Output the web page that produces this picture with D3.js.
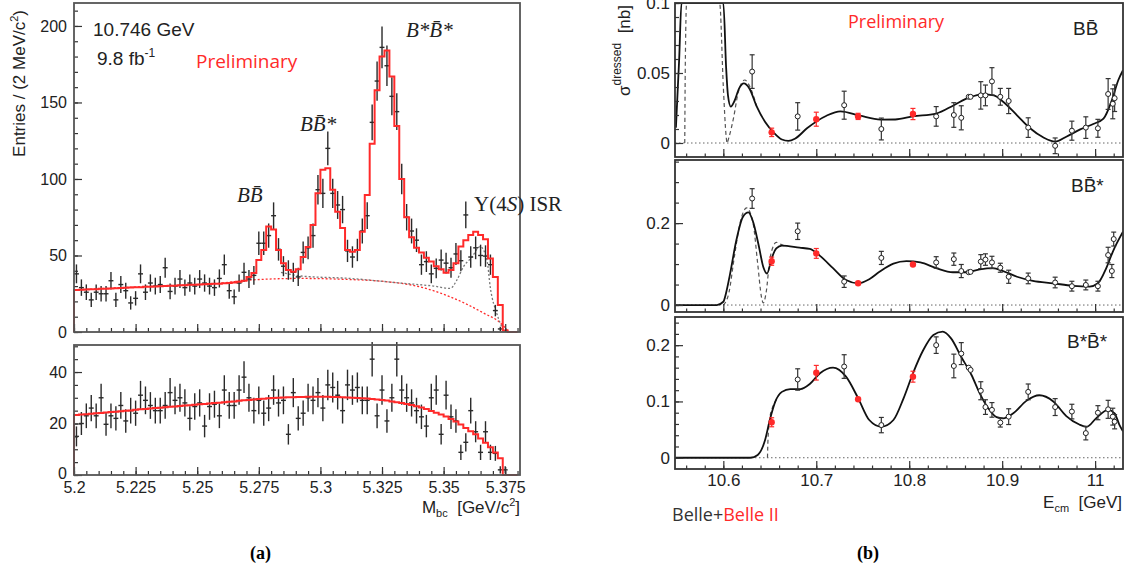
<!DOCTYPE html>
<html>
<head>
<meta charset="utf-8">
<script src="https://cdn.jsdelivr.net/npm/d3@7"></script>
<style>
body { margin: 0; background: #fff; }
svg { font-family: "Liberation Sans", Arial, sans-serif; }
</style>
</head>
<body>
<svg id="chart" width="1131" height="571"></svg>
<script>
// ---- (a) Mbc at 10.746 GeV, 2 MeV bins starting at 5.200
const binStart = 5.2
const binWidth = 0.002
const sigCounts = [38, 29, 26, 21, 26, 25, 25, 33.5, 21, 31, 27, 19, 22, 38, 26, 32, 30, 31, 42, 26.5,
    30, 34.6, 29, 32, 30, 34.6, 32, 30, 29, 35, 44, 27, 23, 32, 39, 34.6, 37, 58, 58, 63,
    76, 54, 43, 40.5, 39, 36, 52, 55, 63, 93, 90.6, 120, 90.6, 83, 80, 53, 49, 53.6, 66, 76,
    137, 164, 186, 174, 154, 144, 100, 75, 66, 60, 44, 46, 38, 41.6, 47, 45, 42, 51, 46.6, 76.5,
    49, 55, 50, 49.6, 44, 14, 2, 0, 0, 0]
const sigFit = [27.5, 27.6, 27.8, 27.9, 28.0, 28.2, 28.3, 28.5, 28.6, 28.8, 28.9, 29.0, 29.2, 29.3, 29.5, 29.6, 29.8, 29.9, 30.0, 30.2,
    30.3, 30.5, 30.6, 30.8, 30.9, 31.0, 31.2, 31.3, 31.5, 31.6, 31.8, 32.0, 32.3, 32.8, 33.5, 36, 38.5, 47, 53.6, 69,
    67, 53.6, 45, 40.5, 39.4, 41, 49, 55.5, 70, 90.6, 106, 107, 93, 78.6, 68, 53.6, 52.5, 53.6, 65.5, 89.5,
    123, 158, 180, 184, 167, 134.6, 100, 75, 62, 55, 52, 48.5, 46, 43, 41, 38.8, 40.5, 45, 55.8, 60,
    63.4, 65.5, 63.4, 60.6, 48, 36, 17.6, 1, 0, 0]
const bkgCurve = [[5.2, 27.5], [5.23, 29.8], [5.26, 32], [5.272, 34], [5.292, 35], [5.31, 34.4], [5.326, 33],
    [5.339, 30], [5.3527, 23], [5.3662, 12.4], [5.373, 6], [5.3765, 0]]
const isrCurve = [[5.284, 39], [5.292, 36.6], [5.312, 35], [5.3324, 32], [5.3459, 30], [5.3527, 28.5], [5.3554, 34],
    [5.3581, 42.7], [5.3615, 49], [5.3648, 55.8], [5.3676, 47], [5.3689, 29.6], [5.3716, 12], [5.3745, 0.5]]
const sideCounts = [15, 20, 23, 26, 23, 30, 19.7, 23, 22, 27, 21, 25, 24, 31, 29, 27, 25, 25, 27, 32,
    29, 30, 28, 22, 26.6, 28, 19, 26.6, 27.5, 23, 33, 27, 27, 33, 38, 30, 25, 29, 24, 26,
    33, 28, 29, 15.8, 32, 22, 24, 30, 29, 32, 26, 35, 34, 31, 25, 35, 33, 34, 29, 29,
    45, 23, 33, 21, 30, 45, 33, 30, 28, 25, 22.6, 19, 30, 33, 15.8, 31, 22.6, 21, 8.8, 12.7,
    25, 16.8, 8.8, 16.8, 8.8, 8.4, 2, 2, 0, 0]
const sideFit = [23.3, 23.5, 23.6, 23.8, 24.0, 24.1, 24.3, 24.5, 24.6, 24.8, 25.0, 25.1, 25.3, 25.5, 25.6, 25.8, 26.0, 26.1, 26.3, 26.5,
    26.6, 26.8, 27.0, 27.1, 27.3, 27.5, 27.6, 27.8, 28.0, 28.1, 28.3, 28.5, 28.6, 28.8, 29.0, 29.1, 29.3, 29.5, 29.6, 29.8,
    29.9, 30.0, 30.1, 30.2, 30.2, 30.3, 30.3, 30.4, 30.4, 30.4, 30.4, 30.4, 30.3, 30.3, 30.2, 30.1, 30.0, 29.9, 29.8, 29.7,
    29.5, 29.3, 29.1, 28.9, 28.6, 28.3, 28.0, 27.6, 27.2, 26.7, 26.2, 25.6, 24.9, 24.2, 23.5, 22.7, 21.8, 20.8, 19.6, 18.3,
    17.0, 15.8, 14.2, 12.5, 10.8, 8.7, 6.5, 0, 0, 0]
const massTicks = [5.2, 5.225, 5.25, 5.275, 5.3, 5.325, 5.35, 5.375]
const massTickLabels = ["5.2", "5.225", "5.25", "5.275", "5.3", "5.325", "5.35", "5.375"]

// ---- (b) dressed cross sections, [E, sigma, error]
const bbBelle = [[10.631, 0.051, 0.012], [10.680, 0.019, 0.0098], [10.730, 0.027, 0.010], [10.770, 0.010, 0.0078],
    [10.829, 0.019, 0.007], [10.848, 0.020, 0.0088], [10.856, 0.018, 0.0086], [10.864, 0.033, 0.0015], [10.866, 0.033, 0.0015],
    [10.877, 0.034, 0.0098], [10.882, 0.034, 0.0074], [10.889, 0.044, 0.0098], [10.898, 0.033, 0.006], [10.907, 0.030, 0.009],
    [10.928, 0.011, 0.007], [10.957, -0.002, 0.0056], [10.975, 0.0088, 0.0068], [10.990, 0.011, 0.0077], [11.003, 0.0105, 0.0064],
    [11.014, 0.035, 0.011], [11.019, 0.028, 0.0107], [11.021, 0.032, 0.0095]]
const bbBelle2 = [[10.652, 0.0076, 0.003], [10.700, 0.017, 0.005], [10.745, 0.019, 0.0022], [10.804, 0.0207, 0.004]]
const bbFit = [[10.549, 0.011], [10.5525, 0.06], [10.555, 0.1], [10.600, 0.1], [10.603, 0.054], [10.605, 0.034], [10.608, 0.026],
    [10.612, 0.030], [10.617, 0.039], [10.622, 0.0426], [10.628, 0.039], [10.636, 0.026], [10.645, 0.015], [10.654, 0.0076],
    [10.663, 0.0025], [10.670, 0.0015], [10.677, 0.003], [10.690, 0.0105], [10.711, 0.0195], [10.726, 0.0226], [10.747, 0.0195],
    [10.769, 0.0167], [10.785, 0.0168], [10.804, 0.019], [10.829, 0.021], [10.848, 0.027], [10.864, 0.0324], [10.880, 0.0348],
    [10.891, 0.034], [10.901, 0.0295], [10.916, 0.0198], [10.930, 0.0105], [10.944, 0.0041], [10.957, 0.001], [10.969, 0.0045],
    [10.984, 0.0097], [10.998, 0.0136], [11.009, 0.0174], [11.018, 0.0305], [11.025, 0.045], [11.030, 0.052]]
const bbAlt = [[10.5585, 0], [10.559, 0.05], [10.5605, 0.1], [10.596, 0.1], [10.600, 0.04], [10.603, 0.005], [10.604, 0],
    [10.606, 0.004], [10.611, 0.018], [10.616, 0.036], [10.623, 0.045], [10.628, 0.041], [10.636, 0.026]]
const bbsBelle = [[10.631, 0.260, 0.024], [10.680, 0.180, 0.020], [10.730, 0.057, 0.014], [10.770, 0.115, 0.016],
    [10.829, 0.104, 0.014], [10.848, 0.112, 0.015], [10.856, 0.083, 0.016], [10.864, 0.080, 0.004], [10.866, 0.081, 0.004],
    [10.877, 0.106, 0.017], [10.882, 0.111, 0.014], [10.889, 0.104, 0.015], [10.898, 0.091, 0.011], [10.907, 0.069, 0.016],
    [10.928, 0.065, 0.013], [10.957, 0.055, 0.013], [10.975, 0.046, 0.012], [10.990, 0.049, 0.012], [11.003, 0.046, 0.012],
    [11.014, 0.122, 0.019], [11.018, 0.083, 0.016], [11.020, 0.161, 0.017]]
const bbsBelle2 = [[10.652, 0.107, 0.010], [10.700, 0.126, 0.012], [10.745, 0.053, 0.004], [10.804, 0.099, 0.006]]
const bbsFit = [[10.549, 0], [10.593, 0], [10.600, 0.008], [10.603, 0.03], [10.607, 0.073], [10.614, 0.158], [10.621, 0.215],
    [10.627, 0.226], [10.632, 0.203], [10.638, 0.146], [10.643, 0.093], [10.647, 0.077], [10.652, 0.114], [10.657, 0.138],
    [10.663, 0.145], [10.682, 0.140], [10.693, 0.137], [10.704, 0.120], [10.718, 0.090], [10.732, 0.061], [10.745, 0.053],
    [10.757, 0.063], [10.768, 0.081], [10.783, 0.101], [10.797, 0.107], [10.812, 0.104], [10.829, 0.090], [10.847, 0.080],
    [10.862, 0.080], [10.876, 0.087], [10.890, 0.090], [10.901, 0.083], [10.916, 0.069], [10.933, 0.059], [10.955, 0.053],
    [10.976, 0.047], [10.994, 0.045], [11.003, 0.053], [11.012, 0.090], [11.019, 0.130], [11.030, 0.179]]
const bbsAlt = [[10.600, 0], [10.606, 0.03], [10.612, 0.12], [10.618, 0.2], [10.625, 0.237], [10.632, 0.2], [10.637, 0.1],
    [10.641, 0.02], [10.643, 0.005], [10.646, 0.03], [10.650, 0.11], [10.654, 0.145], [10.657, 0.153], [10.662, 0.148], [10.668, 0.142]]
const bsbsBelle = [[10.680, 0.139, 0.019], [10.730, 0.162, 0.021], [10.770, 0.058, 0.0136], [10.829, 0.200, 0.0147],
    [10.848, 0.163, 0.021], [10.856, 0.185, 0.0195], [10.864, 0.160, 0.004], [10.866, 0.156, 0.004], [10.877, 0.119, 0.016],
    [10.882, 0.090, 0.013], [10.889, 0.085, 0.013], [10.898, 0.0625, 0.008], [10.907, 0.073, 0.014], [10.928, 0.117, 0.014],
    [10.957, 0.090, 0.015], [10.975, 0.082, 0.013], [10.990, 0.0437, 0.012], [11.003, 0.080, 0.0125], [11.014, 0.086, 0.016],
    [11.019, 0.073, 0.015], [11.021, 0.064, 0.0127]]
const bsbsBelle2 = [[10.652, 0.063, 0.008], [10.700, 0.151, 0.013], [10.745, 0.104, 0.004], [10.804, 0.144, 0.0097]]
const bsbsFit = [[10.549, 0], [10.629, 0], [10.637, 0.005], [10.645, 0.032], [10.650, 0.067], [10.656, 0.100], [10.663, 0.117],
    [10.672, 0.122], [10.683, 0.122], [10.693, 0.131], [10.704, 0.150], [10.718, 0.160], [10.732, 0.144], [10.745, 0.106],
    [10.757, 0.067], [10.770, 0.055], [10.783, 0.067], [10.794, 0.106], [10.804, 0.150], [10.815, 0.191], [10.826, 0.218],
    [10.836, 0.224], [10.845, 0.212], [10.856, 0.179], [10.867, 0.147], [10.876, 0.114], [10.885, 0.088], [10.894, 0.072],
    [10.901, 0.070], [10.912, 0.079], [10.926, 0.101], [10.940, 0.111], [10.955, 0.100], [10.969, 0.074], [10.983, 0.059],
    [10.991, 0.055], [11.001, 0.070], [11.014, 0.085], [11.021, 0.079], [11.026, 0.059], [11.030, 0.047]]
const bsbsAlt = [[10.6475, 0], [10.648, 0.03], [10.650, 0.07], [10.653, 0.09], [10.656, 0.10], [10.660, 0.112]]
const ecmTicks = [10.6, 10.7, 10.8, 10.9, 11.0]
const ecmTickLabels = ["10.6", "10.7", "10.8", "10.9", "11"]

const red = "#ff2a2a"
const ink = "#222"
const gap = "\u00a0\u00a0"
const svg = d3.select("#chart")

// inward ROOT-style ticks, no domain line (the frame is drawn separately)
const axisTicks = (axisFn, scale, at, values, len, labels, pad, size) => {
    const a = axisFn(scale).tickValues(values).tickSize(-len).tickPadding(pad || 3)
        .tickFormat(labels ? (d, i) => labels[i] : "")
    const g = svg.append("g").attr("transform", at).call(a)
    g.select(".domain").remove()
    g.selectAll("line").attr("stroke", "#333").attr("stroke-width", 1.2)
    g.selectAll("text").attr("font-family", "Liberation Sans, Arial, sans-serif")
        .attr("font-size", size || 16).attr("fill", ink)
    return g
}
const frame = (x0, x1, y0, y1, color) => {
    svg.append("rect").attr("x", x0).attr("y", y0).attr("width", x1 - x0).attr("height", y1 - y0)
        .attr("fill", "none").attr("stroke", color).attr("stroke-width", 1.8)
}
const label = (x, y, size) => svg.append("text").attr("x", x).attr("y", y).attr("font-size", size).attr("fill", ink)

// ================= panel (a)
const xM = d3.scaleLinear().domain([5.2, 5.381]).range([74, 520])
const ySig = d3.scaleLinear().domain([0, 215]).range([332, 3])
const ySide = d3.scaleLinear().domain([0, 50.5]).range([475, 345])
const edges = sigCounts.map((d, i) => binStart + i * binWidth)
const massMinor = d3.range(5.2, 5.3801, 0.005)

const histPath = (vals, y) => {
    const pts = [[binStart, 0]].concat(vals.map((v, i) => [edges[i], v]))
    pts.push([binStart + vals.length * binWidth, vals[vals.length - 1]])
    return d3.line().x(d => xM(d[0])).y(d => y(d[1])).curve(d3.curveStepAfter)(pts)
}
const drawCounts = (vals, y) => {
    const g = svg.append("g").attr("stroke", "#2a2a2a").attr("stroke-width", 1.4)
    vals.forEach((v, i) => {
        if (v <= 0) return
        const c = xM(edges[i] + binWidth / 2)
        const e = Math.sqrt(v)
        g.append("line").attr("x1", c).attr("x2", c).attr("y1", y(v - e)).attr("y2", y(v + e))
        g.append("line").attr("x1", xM(edges[i])).attr("x2", xM(edges[i] + binWidth)).attr("y1", y(v)).attr("y2", y(v))
    })
}

// top: signal window
svg.append("path").attr("d", d3.line().x(d => xM(d[0])).y(d => ySig(d[1])).curve(d3.curveMonotoneX)(bkgCurve))
    .attr("fill", "none").attr("stroke", red).attr("stroke-width", 1.3).attr("stroke-dasharray", "2,2")
svg.append("path").attr("d", d3.line().x(d => xM(d[0])).y(d => ySig(d[1])).curve(d3.curveMonotoneX)(isrCurve))
    .attr("fill", "none").attr("stroke", "#777").attr("stroke-width", 1.3).attr("stroke-dasharray", "2,2")
drawCounts(sigCounts, ySig)
svg.append("path").attr("d", histPath(sigFit, ySig)).attr("fill", "none").attr("stroke", red).attr("stroke-width", 2)

axisTicks(d3.axisBottom, xM, "translate(0,332)", massMinor, 4)
axisTicks(d3.axisBottom, xM, "translate(0,332)", massTicks, 8)
axisTicks(d3.axisLeft, ySig, "translate(74,0)", d3.range(0, 211, 10), 4)
axisTicks(d3.axisLeft, ySig, "translate(74,0)", [0, 50, 100, 150, 200], 8, ["0", "50", "100", "150", "200"], 7)
frame(74, 520, 3, 332, "#555")

// bottom: sideband
drawCounts(sideCounts, ySide)
svg.append("path").attr("d", histPath(sideFit, ySide)).attr("fill", "none").attr("stroke", red).attr("stroke-width", 2)
axisTicks(d3.axisBottom, xM, "translate(0,475)", massMinor, 4)
axisTicks(d3.axisBottom, xM, "translate(0,475)", massTicks, 8, massTickLabels, 7)
axisTicks(d3.axisLeft, ySide, "translate(74,0)", d3.range(0, 51, 5), 4)
axisTicks(d3.axisLeft, ySide, "translate(74,0)", [0, 20, 40], 8, ["0", "20", "40"], 7)
    .selectAll("text").filter(d => d === 0).attr("dy", "0.2em")
frame(74, 520, 345, 475, "#555")

// panel (a) texts
label(93, 36, 19).text("10.746 GeV")
label(97, 65, 19)
    .call(t => t.append("tspan").text("9.8 fb"))
    .call(t => t.append("tspan").attr("font-size", 12).attr("dy", -8).text("-1"))
label(196, 68, 19).attr("font-family", "Open Sans").attr("fill", red).text("Preliminary")
const serifLabel = (x, y, txt) => label(x, y, 21).attr("font-family", "Liberation Serif")
    .attr("font-style", "italic").text(txt)
serifLabel(406, 37, "B*B\u0304*")
serifLabel(300, 131, "BB\u0304*")
serifLabel(237, 202, "BB\u0304")
label(474, 211, 21).attr("font-family", "Liberation Serif")
    .call(t => t.append("tspan").text("\u03a5(4"))
    .call(t => t.append("tspan").attr("font-style", "italic").text("S"))
    .call(t => t.append("tspan").text(") ISR"))
label(0, 0, 17).attr("transform", "translate(25,10) rotate(-90)").attr("text-anchor", "end")
    .call(t => t.append("tspan").text("Entries / (2 MeV/c"))
    .call(t => t.append("tspan").attr("font-size", 11).attr("dy", -7).text("2"))
    .call(t => t.append("tspan").attr("dy", 7).text(")"))
label(520, 513, 17).attr("text-anchor", "end")
    .call(t => t.append("tspan").text("M"))
    .call(t => t.append("tspan").attr("font-size", 11).attr("dy", 4).text("bc"))
    .call(t => t.append("tspan").attr("dy", -4).text(gap + "[GeV/c"))
    .call(t => t.append("tspan").attr("font-size", 11).attr("dy", -7).text("2"))
    .call(t => t.append("tspan").attr("dy", 7).text("]"))
label(250, 559, 18).attr("font-weight", "bold").attr("font-family", "Liberation Serif").attr("fill", "#000").text("(a)")

// ================= panel (b)
const xE = d3.scaleLinear().domain([10.548, 11.03]).range([675, 1123])
const ecmMinor = d3.range(10.56, 11.021, 0.02)
const panels = [
    {belle: bbBelle, belle2: bbBelle2, fit: bbFit, alt: bbAlt, domain: [-0.01, 0.1], range: [157, 3],
        minor: d3.range(0, 0.1001, 0.01), major: [0, 0.05, 0.1], labels: ["0", "0.05", "0.1"], name: "BB\u0304", nameY: 35, nameX: 1073},
    {belle: bbsBelle, belle2: bbsBelle2, fit: bbsFit, alt: bbsAlt, domain: [-0.017, 0.354], range: [312, 160],
        minor: d3.range(0, 0.351, 0.05), major: [0, 0.2], labels: ["0", "0.2"], name: "BB\u0304*", nameY: 192, nameX: 1071},
    {belle: bsbsBelle, belle2: bsbsBelle2, fit: bsbsFit, alt: bsbsAlt, domain: [-0.02, 0.25], range: [469, 317],
        minor: d3.range(0, 0.241, 0.02), major: [0, 0.1, 0.2], labels: ["0", "0.1", "0.2"], name: "B*B\u0304*", nameY: 348, nameX: 1067}
]

panels.forEach((p, k) => {
    const y = d3.scaleLinear().domain(p.domain).range(p.range)
    const clipId = "clip" + k
    svg.append("clipPath").attr("id", clipId).append("rect")
        .attr("x", 675).attr("y", p.range[1]).attr("width", 448).attr("height", p.range[0] - p.range[1])
    const g = svg.append("g").attr("clip-path", `url(#${clipId})`)
    const line = d3.line().x(d => xE(d[0])).y(d => y(d[1])).curve(d3.curveMonotoneX)

    g.append("line").attr("x1", 675).attr("x2", 1123).attr("y1", y(0)).attr("y2", y(0))
        .attr("stroke", "#666").attr("stroke-width", 1).attr("stroke-dasharray", "1.5,2.5")
    g.append("path").attr("d", line(p.alt)).attr("fill", "none").attr("stroke", "#555")
        .attr("stroke-width", 1.2).attr("stroke-dasharray", "4,3")
    g.append("path").attr("d", line(p.fit)).attr("fill", "none").attr("stroke", "#111").attr("stroke-width", 1.8)

    const bars = (pts, color) => {
        const b = g.append("g").attr("stroke", color).attr("stroke-width", 1.2)
        pts.forEach(d => {
            const cx = xE(d[0])
            b.append("line").attr("x1", cx).attr("x2", cx).attr("y1", y(d[1] - d[2])).attr("y2", y(d[1] + d[2]))
            if (y(d[1] - d[2]) - y(d[1] + d[2]) > 6) {
                [d[1] - d[2], d[1] + d[2]].forEach(v => b.append("line").attr("x1", cx - 2.5).attr("x2", cx + 2.5)
                    .attr("y1", y(v)).attr("y2", y(v)))
            }
        })
    }
    bars(p.belle, "#333")
    bars(p.belle2, red)
    g.append("g").selectAll("circle").data(p.belle).join("circle")
        .attr("cx", d => xE(d[0])).attr("cy", d => y(d[1])).attr("r", 2.5)
        .attr("fill", "#fff").attr("stroke", "#222").attr("stroke-width", 1)
    g.append("g").selectAll("circle").data(p.belle2).join("circle")
        .attr("cx", d => xE(d[0])).attr("cy", d => y(d[1])).attr("r", 3.2).attr("fill", red)

    const yb = p.range[0]
    axisTicks(d3.axisBottom, xE, `translate(0,${yb})`, ecmMinor, 3.5)
    axisTicks(d3.axisBottom, xE, `translate(0,${yb})`, ecmTicks, 8, k === 2 ? ecmTickLabels : null, 5, 17)
    axisTicks(d3.axisLeft, y, "translate(675,0)", p.minor, 4)
    axisTicks(d3.axisLeft, y, "translate(675,0)", p.major, 8, p.labels, 5, 17)
    frame(675, 1123, p.range[1], p.range[0], "#333")

    label(p.nameX, p.nameY, 19).text(p.name)
})

label(848, 28, 18).attr("font-family", "Open Sans").attr("fill", red).text("Preliminary")
label(0, 0, 17).attr("transform", "translate(630,5) rotate(-90)").attr("text-anchor", "end")
    .call(t => t.append("tspan").text("\u03c3"))
    .call(t => t.append("tspan").attr("font-size", 12).attr("dy", -9).text("dressed"))
    .call(t => t.append("tspan").attr("dy", 9).text(gap + "[nb]"))
label(1122, 508, 17).attr("text-anchor", "end")
    .call(t => t.append("tspan").text("E"))
    .call(t => t.append("tspan").attr("font-size", 11).attr("dy", 4).text("cm"))
    .call(t => t.append("tspan").attr("dy", -4).text(gap + "[GeV]"))
label(672, 521, 18).attr("font-family", "Open Sans")
    .call(t => t.append("tspan").attr("fill", "#333").text("Belle+"))
    .call(t => t.append("tspan").attr("fill", red).text("Belle II"))
label(857, 559, 18).attr("font-weight", "bold").attr("font-family", "Liberation Serif").attr("fill", "#000").text("(b)")
</script>
</body>
</html>
